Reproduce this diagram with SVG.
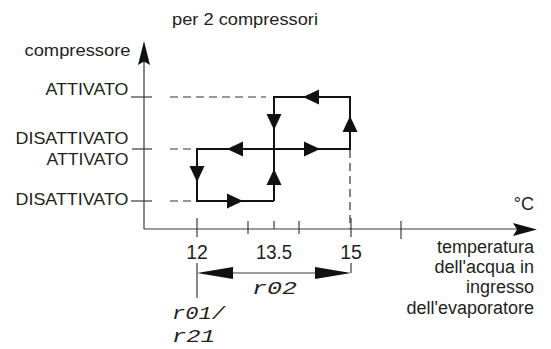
<svg xmlns="http://www.w3.org/2000/svg" width="551" height="349" viewBox="0 0 551 349">
<style>
text{font-family:"Liberation Sans",Arial,sans-serif;fill:#231f20;font-size:17px}
.num{font-size:19.5px;text-anchor:middle}
.end{text-anchor:end}
.seg{font-family:"Liberation Mono","DejaVu Sans Mono",monospace;font-style:italic;font-size:18px}
.ax{stroke:#3a3a3a;stroke-width:1.2;fill:none}
.loop{stroke:#111;stroke-width:2;fill:none}
.dash{stroke:#333;stroke-width:1.2;stroke-dasharray:8 5;fill:none}
.head{fill:#111}
</style>
<defs>
<polygon id="tri" points="0,0 -16,-7.5 -16,7.5"/>
</defs>
<rect width="551" height="349" fill="#fff"/>
<g id="axes">
<line class="ax" x1="144" y1="60" x2="144" y2="229"/>
<line class="ax" x1="144" y1="229" x2="520" y2="229"/>
<path class="head" d="M144,41 L150,65 L144,61.5 L138,65 Z"/>
<path class="head" d="M537,229.5 L513,223 L517,229.5 L513,236 Z"/>
<line class="ax" x1="131" y1="97" x2="152" y2="97"/>
<line class="ax" x1="132" y1="149" x2="152" y2="149"/>
<line class="ax" x1="131" y1="201" x2="152" y2="201"/>
<line class="ax" x1="197" y1="218" x2="197" y2="237"/>
<line class="ax" x1="248" y1="221" x2="248" y2="234"/>
<line class="ax" x1="274" y1="221" x2="274" y2="229"/>
<line class="ax" x1="299" y1="221" x2="299" y2="234"/>
<line class="ax" x1="351" y1="218" x2="351" y2="237"/>
<line class="ax" x1="401" y1="221" x2="401" y2="239"/>
</g>
<g id="labels">
<text x="172" y="25" textLength="146" lengthAdjust="spacingAndGlyphs">per 2 compressori</text>
<text class="end" x="130.5" y="56" textLength="106" lengthAdjust="spacingAndGlyphs">compressore</text>
<text class="end" x="128.5" y="95" textLength="83" lengthAdjust="spacingAndGlyphs">ATTIVATO</text>
<text class="end" x="128.5" y="143.5" textLength="113" lengthAdjust="spacingAndGlyphs">DISATTIVATO</text>
<text class="end" x="128.5" y="165" textLength="82" lengthAdjust="spacingAndGlyphs">ATTIVATO</text>
<text class="end" x="128.5" y="205" textLength="113" lengthAdjust="spacingAndGlyphs">DISATTIVATO</text>
<text class="end" x="534" y="210" style="font-size:18px">°C</text>
<text class="end" x="534" y="253" style="font-size:18px">temperatura</text>
<text class="end" x="534" y="273" style="font-size:18px">dell'acqua in</text>
<text class="end" x="534" y="293" style="font-size:18px">ingresso</text>
<text class="end" x="534" y="314" style="font-size:18px">dell'evaporatore</text>
<text class="num" x="197" y="259">12</text>
<text class="num" x="274" y="259" textLength="36" lengthAdjust="spacingAndGlyphs">13.5</text>
<text class="num" x="351" y="259">15</text>
<text class="seg" x="252" y="294" textLength="45" lengthAdjust="spacingAndGlyphs">r02</text>
<text class="seg" x="172" y="319" textLength="53" lengthAdjust="spacingAndGlyphs">r01/</text>
<text class="seg" x="172" y="342" textLength="43" lengthAdjust="spacingAndGlyphs">r21</text>
</g>
<g id="connectors">
<line class="dash" x1="170" y1="97" x2="266" y2="97"/>
<line class="dash" x1="170" y1="149" x2="196" y2="149"/>
<line class="dash" x1="170" y1="201" x2="196" y2="201"/>
<line class="dash" x1="350" y1="150" x2="350" y2="229"/>
<path class="loop" d="M274,201 V97 H350 V149 H197 V201 H274"/>
<use href="#tri" class="head" transform="translate(303,97) rotate(180)"/>
<use href="#tri" class="head" transform="translate(350,116) rotate(-90)"/>
<use href="#tri" class="head" transform="translate(274,130) rotate(90)"/>
<use href="#tri" class="head" transform="translate(227,149) rotate(180)"/>
<use href="#tri" class="head" transform="translate(320,149)"/>
<use href="#tri" class="head" transform="translate(197,182) rotate(90)"/>
<use href="#tri" class="head" transform="translate(274,169) rotate(-90)"/>
<use href="#tri" class="head" transform="translate(243,201)"/>
</g>
<g id="dimension">
<line class="ax" x1="197" y1="263" x2="197" y2="298"/>
<line class="ax" x1="351" y1="263" x2="351" y2="273"/>
<line class="ax" x1="215" y1="273" x2="335" y2="273"/>
<polygon class="head" points="197,273 233,267 233,279"/>
<polygon class="head" points="351,273 315,267 315,279"/>
</g>
</svg>
